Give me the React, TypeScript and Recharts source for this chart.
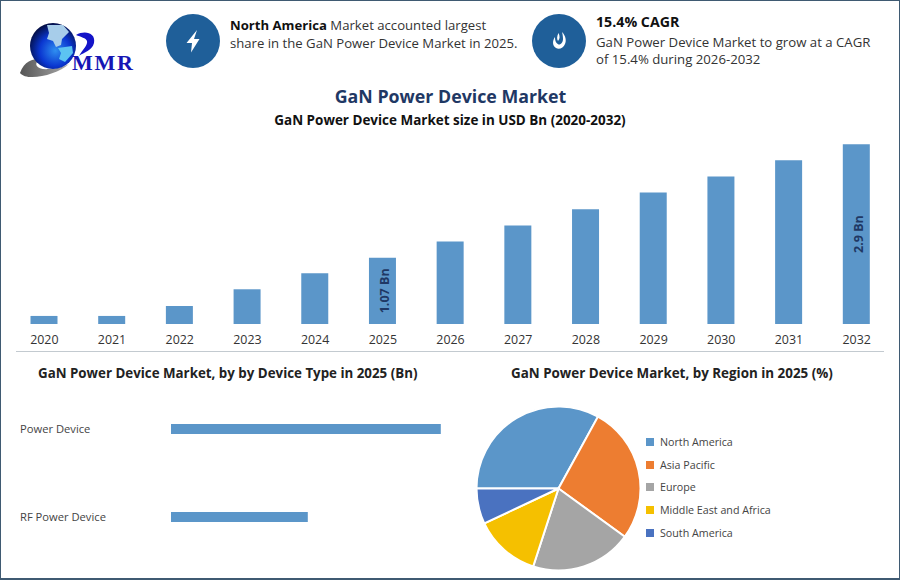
import React from 'react'
import { BarChart, Bar, XAxis, YAxis, LabelList, PieChart, Pie, Cell, Legend } from 'recharts'

const years = ['2020', '2021', '2022', '2023', '2024', '2025', '2026', '2027', '2028', '2029', '2030', '2031', '2032']
const marketSize = [0.13, 0.13, 0.29, 0.56, 0.82, 1.07, 1.33, 1.59, 1.85, 2.12, 2.38, 2.64, 2.9]
const sizeLabels = ['', '', '', '', '', '1.07 Bn', '', '', '', '', '', '', '2.9 Bn']

const deviceTypes = ['Power Device', 'RF Power Device']
const deviceValues = [0.71, 0.36]

const regions = ['North America', 'Asia Pacific', 'Europe', 'Middle East and Africa', 'South America']
const regionShares = [33, 27, 20, 13, 7]
const regionColors = ['#5b96c9', '#ed7d31', '#a5a5a5', '#f5c000', '#4a72c0']

const sizeRows = years.map((year, i) => ({ year, value: marketSize[i], label: sizeLabels[i] }))
const deviceRows = deviceTypes.map((name, i) => ({ name, value: deviceValues[i] }))
const regionRows = regions.map((name, i) => ({ name, value: regionShares[i] }))

const FONT = '"Open Sans", "Noto Sans", sans-serif'
const BLUE = '#5b96c9'
const NAVY = '#1f3864'
const ICON_BLUE = '#1f5f99'

const abs = (left: number, top: number, extra: React.CSSProperties = {}): React.CSSProperties => ({
  position: 'absolute',
  left,
  top,
  ...extra,
})

const BarTag = ({ x, y, width, height, value }: any) => {
  if (!value) return null
  const cx = x + width / 2 + 2
  const cy = y + height / 2
  return (
    <text
      x={cx}
      y={cy}
      transform={`rotate(-90 ${cx} ${cy})`}
      textAnchor="middle"
      dominantBaseline="central"
      fontSize={12.5}
      fontWeight={700}
      fill={NAVY}
      fontFamily={FONT}
    >
      {value}
    </text>
  )
}

// labels sit at the left edge of the panel, not against the axis
const DeviceTick = ({ y, payload }: any) => (
  <text x={20} y={y} dy={3.5} fontSize={11.2} fill="#444" fontFamily={FONT}>
    {payload.value}
  </text>
)

const RegionLegend = ({ payload }: any) => (
  <div style={{ fontFamily: FONT, fontSize: 10.7, color: '#444' }}>
    {payload.map((p: any) => (
      <div key={p.value} style={{ display: 'flex', alignItems: 'center', height: 22.6 }}>
        <span style={{ width: 8, height: 8, background: p.color, marginRight: 6 }} />
        {p.value}
      </div>
    ))}
  </div>
)

const Logo = () => (
  <svg width={130} height={90} style={abs(15, 15)}>
    <defs>
      <radialGradient id="globe" cx="55%" cy="60%" r="62%">
        <stop offset="0%" stopColor="#2f8ff0" />
        <stop offset="55%" stopColor="#0a36d0" />
        <stop offset="100%" stopColor="#030c3c" />
      </radialGradient>
      <linearGradient id="swoosh" x1="0" x2="1">
        <stop offset="0%" stopColor="#555" />
        <stop offset="100%" stopColor="#aaa" />
      </linearGradient>
    </defs>
    <path d="M5 58 C9 46 18 44 24 44 C18 50 22 55 34 54 C42 53.5 48 52 54 49 C42 60 12 67 5 58 Z" fill="url(#swoosh)" />
    <circle cx="38" cy="31" r="23" fill="url(#globe)" />
    <path d="M32 10 L48 10 L54 17 L47 24 L46 30 L41 32 L38 26 L32 24 L34 18 Z" fill="#a7cdea" />
    <path d="M43 33 L57 31 L58 38 L50 47 L44 44 L46 38 Z" fill="#5cc4f2" />
    <path d="M61 20 C70 15 81 18 79 28 C77 36 69 37 64 41 C68 34 73 30 72 26 C71 23 66 22 61 20 Z" fill="#1414c8" />
    <text x="57" y="55" fontFamily="Liberation Serif" fontWeight={700} fontSize={22} fill="#1616b4" textLength={61}>
      MMR
    </text>
  </svg>
)

const BoltIcon = () => (
  <svg width={54} height={54} style={abs(166, 14)}>
    <circle cx="27" cy="27" r="27" fill={ICON_BLUE} />
    <path d="M31 16 L20.5 29 L26 29 L25 38.5 L33.5 25 L28 25 Z" fill="#fff" />
  </svg>
)

const DropIcon = () => (
  <svg width={54} height={54} style={abs(532, 14)}>
    <circle cx="27" cy="27" r="27" fill={ICON_BLUE} />
    <path
      d="M30 18 C34 22 34.5 27 33 30 C31.5 34 27 36 24 34 C20.5 32 20 27 23 23 C23 26 23.5 29 26.5 30.5 C29 31 31 28 31 25 C31 22 30.5 20 30 18 Z"
      fill="#fff"
    />
    <path d="M26.5 19 C28 22 28 25 26 27 C24.5 25 25 22 26.5 19 Z" fill="#fff" />
  </svg>
)

const App = () => (
  <div
    style={{
      ...abs(0, 0),
      width: 900,
      height: 580,
      boxSizing: 'border-box',
      border: '1px solid #3f5a72',
      borderBottomWidth: 2,
      background: '#fff',
      fontFamily: FONT,
      overflow: 'hidden',
    }}
  >
    <div style={{ ...abs(-1, -1), width: 900, height: 580 }}>
      <Logo />
      <BoltIcon />
      <div style={abs(230, 16, { fontSize: 13.15, lineHeight: '18px', color: '#333', whiteSpace: 'nowrap' })}>
        <b style={{ color: '#111' }}>North America</b> Market accounted largest
        <br />
        share in the GaN Power Device Market in 2025.
      </div>
      <DropIcon />
      <div style={abs(596, 13, { fontSize: 14.2, lineHeight: '18px', fontWeight: 700, color: '#111', whiteSpace: 'nowrap' })}>
        15.4% CAGR
      </div>
      <div style={abs(596, 34, { fontSize: 13.2, lineHeight: '17px', color: '#333', whiteSpace: 'nowrap' })}>
        GaN Power Device Market to grow at a CAGR
        <br />
        of 15.4% during 2026-2032
      </div>

      <div style={abs(0.5, 84, { width: 900, textAlign: 'center', fontSize: 17.8, fontWeight: 700, color: NAVY })}>
        GaN Power Device Market
      </div>
      <div style={abs(0, 111, { width: 900, textAlign: 'center', fontSize: 13.46, fontWeight: 700, color: '#111' })}>
        GaN Power Device Market size in USD Bn (2020-2032)
      </div>

      <div style={abs(0, 130)}>
        <BarChart width={900} height={220} data={sizeRows} margin={{ top: 8, right: 9.5, bottom: 0, left: 10.5 }}>
          <XAxis
            dataKey="year"
            interval={0}
            axisLine={false}
            tickLine={false}
            height={26}
            tickMargin={5}
            tick={{ fontSize: 12.4, fill: '#333', fontFamily: FONT }}
          />
          <YAxis hide domain={[0, 3]} />
          <Bar dataKey="value" fill={BLUE} barSize={27} isAnimationActive={false}>
            <LabelList dataKey="label" content={<BarTag />} />
          </Bar>
        </BarChart>
      </div>

      <div style={abs(16, 351, { width: 868, height: 1, background: '#c3cad0' })} />

      <div style={abs(38, 364, { fontSize: 13.33, fontWeight: 700, color: '#222', whiteSpace: 'nowrap' })}>
        GaN Power Device Market, by by Device Type in 2025 (Bn)
      </div>
      <div style={abs(511, 364, { fontSize: 13.4, fontWeight: 700, color: '#222', whiteSpace: 'nowrap' })}>
        GaN Power Device Market, by Region in 2025 (%)
      </div>

      <div style={abs(0, 385)}>
        <BarChart
          layout="vertical"
          width={475}
          height={176}
          data={deviceRows}
          margin={{ top: 0, right: 0, bottom: 0, left: 0 }}
        >
          <XAxis type="number" hide domain={[0, 0.8]} />
          <YAxis
            type="category"
            dataKey="name"
            width={171}
            axisLine={false}
            tickLine={false}
            tick={<DeviceTick />}
          />
          <Bar dataKey="value" fill={BLUE} barSize={10} isAnimationActive={false} />
        </BarChart>
      </div>

      <div style={abs(450, 390)}>
        <PieChart width={340} height={190} margin={{ top: 0, right: 0, bottom: 0, left: 0 }}>
          <Pie
            data={regionRows}
            dataKey="value"
            nameKey="name"
            cx={108.5}
            cy={98.5}
            outerRadius={82}
            startAngle={180}
            endAngle={-180}
            stroke="#fff"
            strokeWidth={2}
            isAnimationActive={false}
          >
            {regionRows.map((r, i) => (
              <Cell key={r.name} fill={regionColors[i]} />
            ))}
          </Pie>
          <Legend
            layout="vertical"
            itemSorter={null}
            content={<RegionLegend />}
            wrapperStyle={{ position: 'absolute', left: 196, top: 41, width: 144 }}
          />
        </PieChart>
      </div>
    </div>
  </div>
)

export default App
